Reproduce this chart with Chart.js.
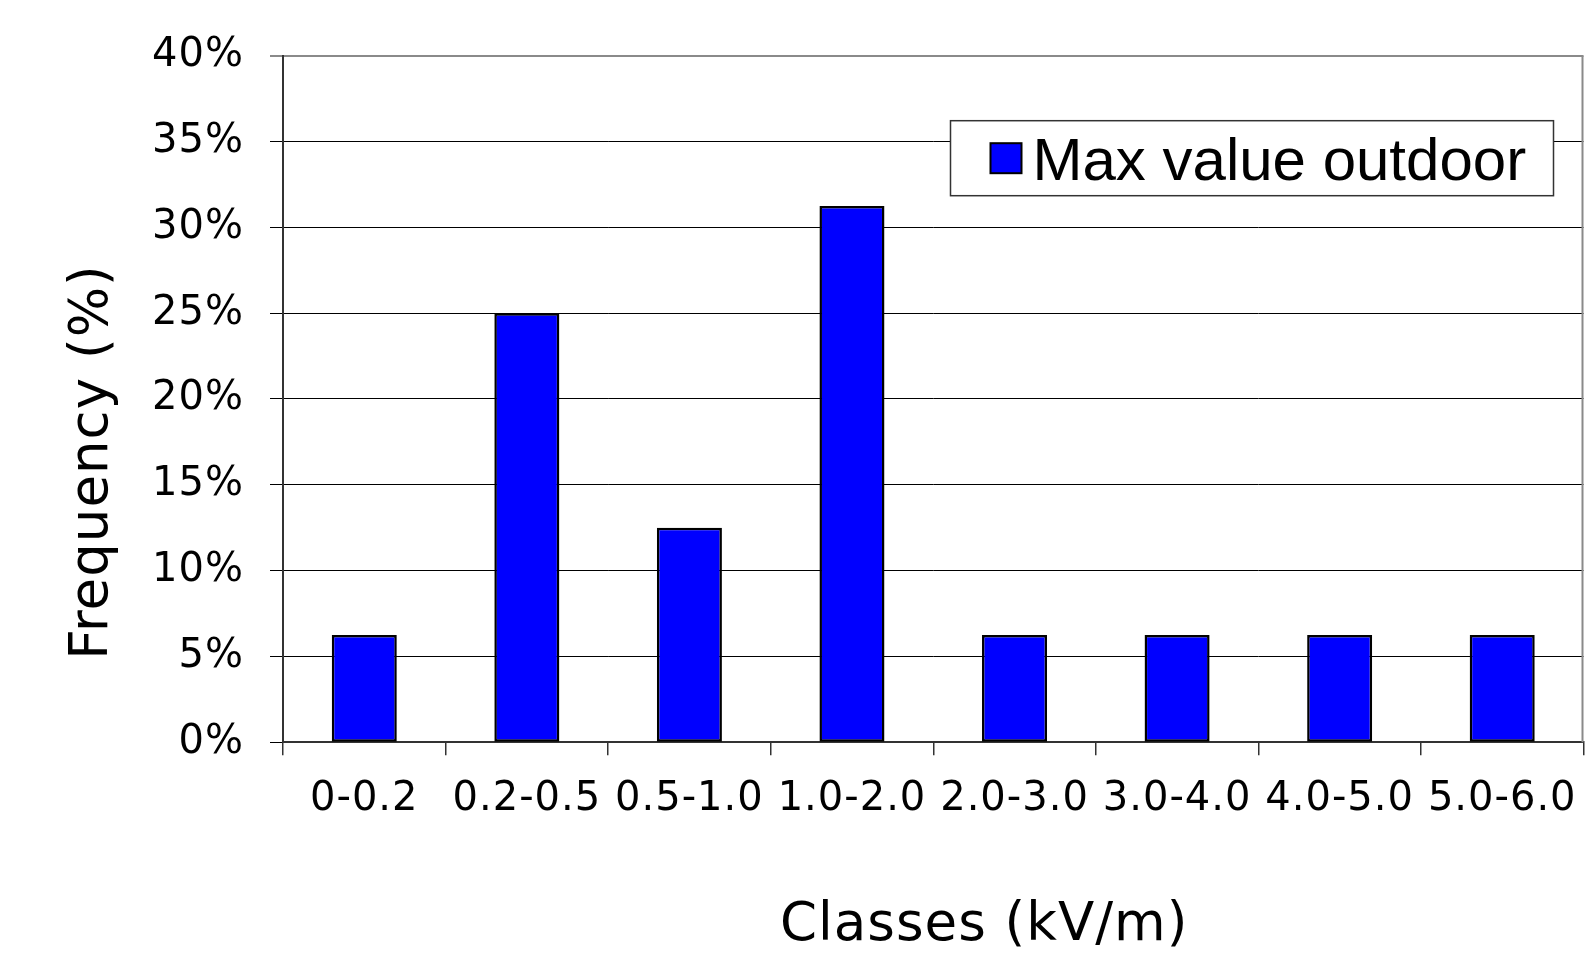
<!DOCTYPE html>
<html>
<head>
<meta charset="utf-8">
<title>Max value outdoor – frequency by class</title>
<script src="https://cdn.jsdelivr.net/npm/chart.js@4/dist/chart.umd.min.js"></script>
<style>
  html, body { margin: 0; padding: 0; background: #ffffff; }
  #wrap { width: 1588px; height: 953px; position: relative; }
</style>
</head>
<body>
<div id="wrap"><canvas id="chart"></canvas></div>
<script>
// Field-strength classes and the share of measurements in each
const classes = ['0-0.2', '0.2-0.5', '0.5-1.0', '1.0-2.0', '2.0-3.0', '3.0-4.0', '4.0-5.0', '5.0-6.0'];
const maxOutdoor = [6.25, 25, 12.5, 31.25, 6.25, 6.25, 6.25, 6.25];
const seriesName = 'Max value outdoor';
const xTitle = 'Classes (kV/m)';
const yTitle = 'Frequency (%)';
const yMax = 40;
const yStep = 5;

const TICK_FONT = 'DejaVu Sans';

// Axis titles, boxed legend and the right edge of the plot frame
const framePlugin = {
  id: 'frame',
  beforeLayout(chart) { chart.ctx.letterSpacing = '1px'; },
  beforeDraw(chart) { chart.ctx.letterSpacing = '1px'; },
  afterDraw(chart) {
    const { ctx, chartArea: a } = chart;
    ctx.save();

    // right border of the plot area
    ctx.strokeStyle = '#8a8a8a';
    ctx.lineWidth = 2;
    ctx.beginPath();
    ctx.moveTo(a.right - 1, a.top);
    ctx.lineTo(a.right - 1, a.bottom);
    ctx.stroke();

    // axis titles
    ctx.fillStyle = '#000';
    ctx.letterSpacing = '1px';
    ctx.font = '53px "DejaVu Sans"';
    ctx.textAlign = 'center';
    ctx.textBaseline = 'alphabetic';
    ctx.fillText(xTitle, (a.left + a.right) / 2 + 51, a.bottom + 198);

    ctx.save();
    ctx.translate(107, (a.top + a.bottom) / 2 + 63);
    ctx.rotate(-Math.PI / 2);
    ctx.fillText(yTitle, 0, 0);
    ctx.restore();

    // legend box
    const ds = chart.data.datasets[0];
    const bx = a.right - 633, by = a.top + 65, bw = 603, bh = 75;
    ctx.fillStyle = '#fff';
    ctx.fillRect(bx, by, bw, bh);
    ctx.strokeStyle = '#333';
    ctx.lineWidth = 1.5;
    ctx.strokeRect(bx, by, bw, bh);

    ctx.fillStyle = ds.backgroundColor;
    ctx.fillRect(bx + 40, by + 22.5, 31, 30);
    ctx.strokeStyle = ds.borderColor;
    ctx.lineWidth = 2;
    ctx.strokeRect(bx + 40, by + 22.5, 31, 30);

    ctx.letterSpacing = '0px';
    ctx.fillStyle = '#000';
    ctx.font = '60px "Liberation Sans"';
    ctx.textAlign = 'left';
    ctx.textBaseline = 'alphabetic';
    ctx.fillText(ds.label, bx + 82, by + 59);

    ctx.restore();
  }
};

new Chart(document.getElementById('chart'), {
  type: 'bar',
  data: {
    labels: classes,
    datasets: [{
      label: seriesName,
      data: maxOutdoor,
      backgroundColor: '#0000ff',
      borderColor: '#000000',
      borderWidth: 2.5,
      borderSkipped: false,
      barPercentage: 0.4,
      categoryPercentage: 1.0
    }]
  },
  options: {
    responsive: true,
    maintainAspectRatio: false,
    animation: false,
    layout: { padding: { top: 55.7, right: 4.5, bottom: 0, left: 0 } },
    plugins: {
      legend: { display: false },
      title: { display: false },
      tooltip: { enabled: false }
    },
    scales: {
      x: {
        ticks: {
          font: { family: TICK_FONT, size: 40 },
          color: '#000',
          padding: 20,
          maxRotation: 0,
          autoSkip: false
        },
        grid: {
          offset: true,
          drawOnChartArea: false,
          drawTicks: true,
          tickLength: 13,
          color: '#333',
          lineWidth: 1.5
        },
        border: { color: '#333', width: 2 },
        afterFit(scale) {
          scale.height = 953 - 742.3;
          scale.paddingLeft = 0;
          scale.paddingRight = 0;
        }
      },
      y: {
        min: 0,
        max: yMax,
        ticks: {
          stepSize: yStep,
          callback: (v) => v + '%',
          font: { family: TICK_FONT, size: 40 },
          color: '#000',
          padding: 26
        },
        grid: {
          drawTicks: true,
          tickLength: 13,
          color: (c) => (c.tick && c.tick.value === yMax ? '#8a8a8a' : '#000'),
          lineWidth: (c) => (c.tick && c.tick.value === yMax ? 2 : 1)
        },
        border: { color: '#333', width: 2 },
        afterFit(scale) {
          scale.width = 283;
          scale.paddingTop = 0;
          scale.paddingBottom = 0;
        }
      }
    }
  },
  plugins: [framePlugin]
});
</script>
</body>
</html>
